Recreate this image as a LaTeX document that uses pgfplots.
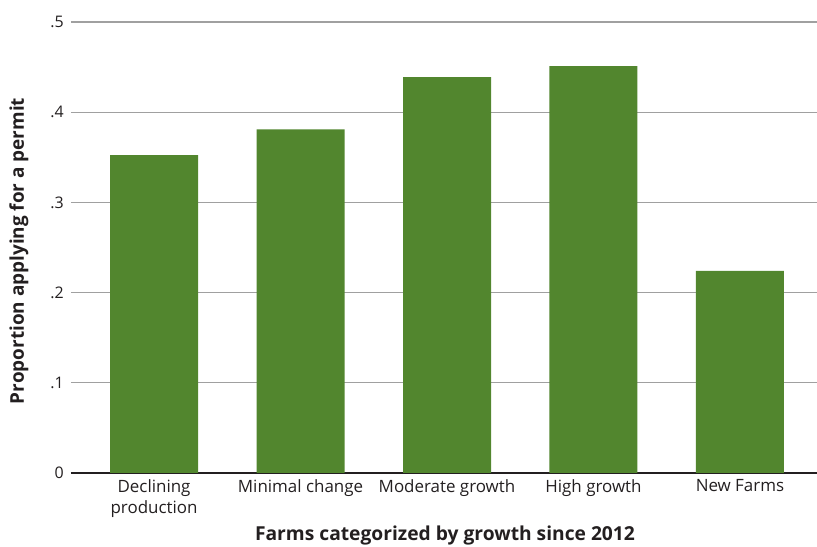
\documentclass[border=0pt]{standalone}
\usepackage{pgfplots}
\pgfplotsset{compat=1.18}
\usepackage{fontspec}
\setmainfont{Open Sans}
\usetikzlibrary{calc}
\definecolor{bargreen}{RGB}{82,134,46}
\definecolor{txt}{RGB}{35,31,32}
\definecolor{gridgray}{RGB}{160,160,160}
\begin{document}
\begin{tikzpicture}
\begin{axis}[
  scale only axis,
  width=746bp, height=451bp,
  xmin=-0.567, xmax=4.526,
  ymin=0, ymax=0.5,
  axis x line*=bottom,
  axis y line*=left,
  y axis line style={draw=none},
  x axis line style={line width=2.2bp, color=txt, -},
  xtick={0,1,2,3,4},
  xticklabels={{Declining\\production},{Minimal change},{Moderate growth},{High growth},{New Farms}},
  xticklabel style={align=center, font=\fontsize{17}{21}\selectfont, text=txt, yshift=-3bp},
  major tick length=0pt,
  ytick={0,0.1,0.2,0.3,0.4,0.5},
  yticklabels={0,.1,.2,.3,.4,.5},
  yticklabel style={font=\fontsize{16}{18}\selectfont, text=txt, inner sep=0pt, anchor=east, xshift=-7bp},
  ymajorgrids,
  grid style={gridgray, line width=1.2bp},
  clip=false,
  enlargelimits=false,
]
\addplot[ybar, bar width=88bp, fill=bargreen, draw=none] coordinates {
  (0,0.3525) (1,0.381) (2,0.439) (3,0.451) (4,0.224)
};
\coordinate (bl) at (rel axis cs:0,0);
\coordinate (tr) at (rel axis cs:1,1);
\end{axis}
\node[rotate=90, text=txt, font=\bfseries\fontsize{19}{22}\selectfont, inner sep=0pt] at ($(bl)+(-52bp,222bp)$) {Proportion applying for a permit};
\node[anchor=base, text=txt, font=\bfseries\fontsize{19.3}{22}\selectfont, inner sep=0pt] at ($(bl)+(374bp,-67.5bp)$) {Farms categorized by growth since 2012};
\pgfresetboundingbox
\path ($(bl)+(-71bp,-74bp)$) rectangle ($(tr)+(0,22bp)$);
\end{tikzpicture}
\end{document}
